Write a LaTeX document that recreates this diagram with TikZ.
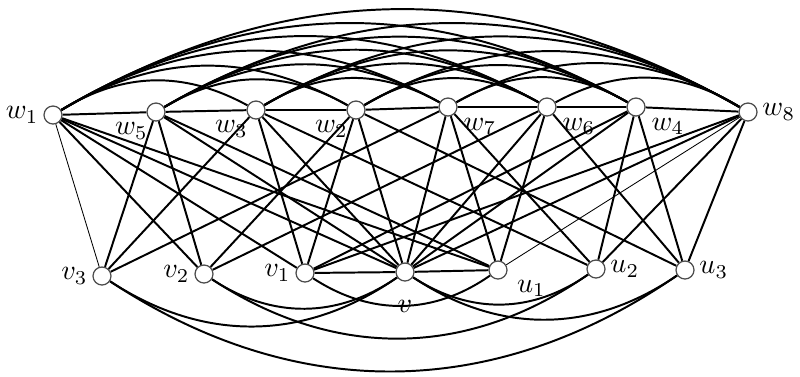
\documentclass[tikz,border=0pt]{standalone}
\usepackage{tikz}
\usetikzlibrary{backgrounds}
\tikzset{
  vert/.style={circle, draw=black!70, fill=white, line width=0.45pt, minimum size=0.225cm, inner sep=0pt},
  edg/.style={line width=0.7pt},
  thinedg/.style={line width=0.3pt},
  toparc/.style={edg, bend left=30},
  botarc/.style={edg, bend right=34},
  every label/.style={inner sep=1.5pt},
}

\begin{document}
\begin{tikzpicture}[x=0.125mm, y=0.125mm]
  \useasboundingbox (0,0) rectangle (800,-376);

  % w row
  \node[vert, label=left:$w_1$] (w1) at (53,-115) {};
  \node[vert, label={[label distance=-1pt]-120:$w_5$}] (w5) at (156,-112) {};
  \node[vert, label={[label distance=-1pt]-120:$w_3$}] (w3) at (256,-110) {};
  \node[vert, label={[label distance=-1pt]-120:$w_2$}] (w2) at (356,-110) {};
  \node[vert, label={[label distance=1pt]-30:$w_7$}] (w7) at (448,-107) {};
  \node[vert, label={[label distance=1pt]-30:$w_6$}] (w6) at (547,-107) {};
  \node[vert, label={[label distance=1pt]-30:$w_4$}] (w4) at (636,-107) {};
  \node[vert, label=right:$w_8$] (w8) at (748,-112) {};

  % v/u row
  \node[vert, label=left:$v_3$] (v3) at (102,-276) {};
  \node[vert, label=left:$v_2$] (v2) at (204,-274) {};
  \node[vert, label=left:$v_1$] (v1) at (305,-273) {};
  \node[vert, label={[label distance=5pt]below:$v$}] (v) at (405,-272) {};
  \node[vert, label={[label distance=2pt]-20:$u_1$}] (u1) at (498,-270) {};
  \node[vert, label=right:$u_2$] (u2) at (596,-269) {};
  \node[vert, label=right:$u_3$] (u3) at (685,-270) {};

  \begin{scope}[on background layer]
    % path along the top
    \draw[edg] (w1) -- (w5) -- (w3) -- (w2) -- (w7) -- (w6) -- (w4) -- (w8);
    % arcs between the other w's
    \foreach \a [count=\i] in {w1,w5,w3,w2,w7,w6,w4,w8} {
      \foreach \b [count=\j] in {w1,w5,w3,w2,w7,w6,w4,w8} {
        \ifnum\j>\numexpr\i+1\relax \draw[toparc] (\a) to (\b); \fi
      }
    }

    % w to bottom row
    \foreach \a/\b in {w1/v2, w1/v1, w1/v, w1/u1,
                       w5/v3, w5/v2, w5/v, w5/u1,
                       w3/v3, w3/v1, w3/v, w3/u2,
                       w2/v2, w2/v1, w2/v, w2/u3,
                       w7/v3, w7/v, w7/u1, w7/u2,
                       w6/v2, w6/v, w6/u1, w6/u3,
                       w4/v1, w4/v, w4/u2, w4/u3,
                       w8/v1, w8/v, w8/u2, w8/u3}
      \draw[edg] (\a) -- (\b);
    \draw[thinedg] (w1) -- (v3);
    \draw[thinedg] (w8) -- (u1);

    % bottom row
    \draw[edg] (v1) -- (v) -- (u1);
    \foreach \a/\b in {v3/v, v2/v, v1/u1, v/u2, v/u3, v2/u2, v3/u3}
      \draw[botarc] (\a) to (\b);
  \end{scope}
\end{tikzpicture}
\end{document}
